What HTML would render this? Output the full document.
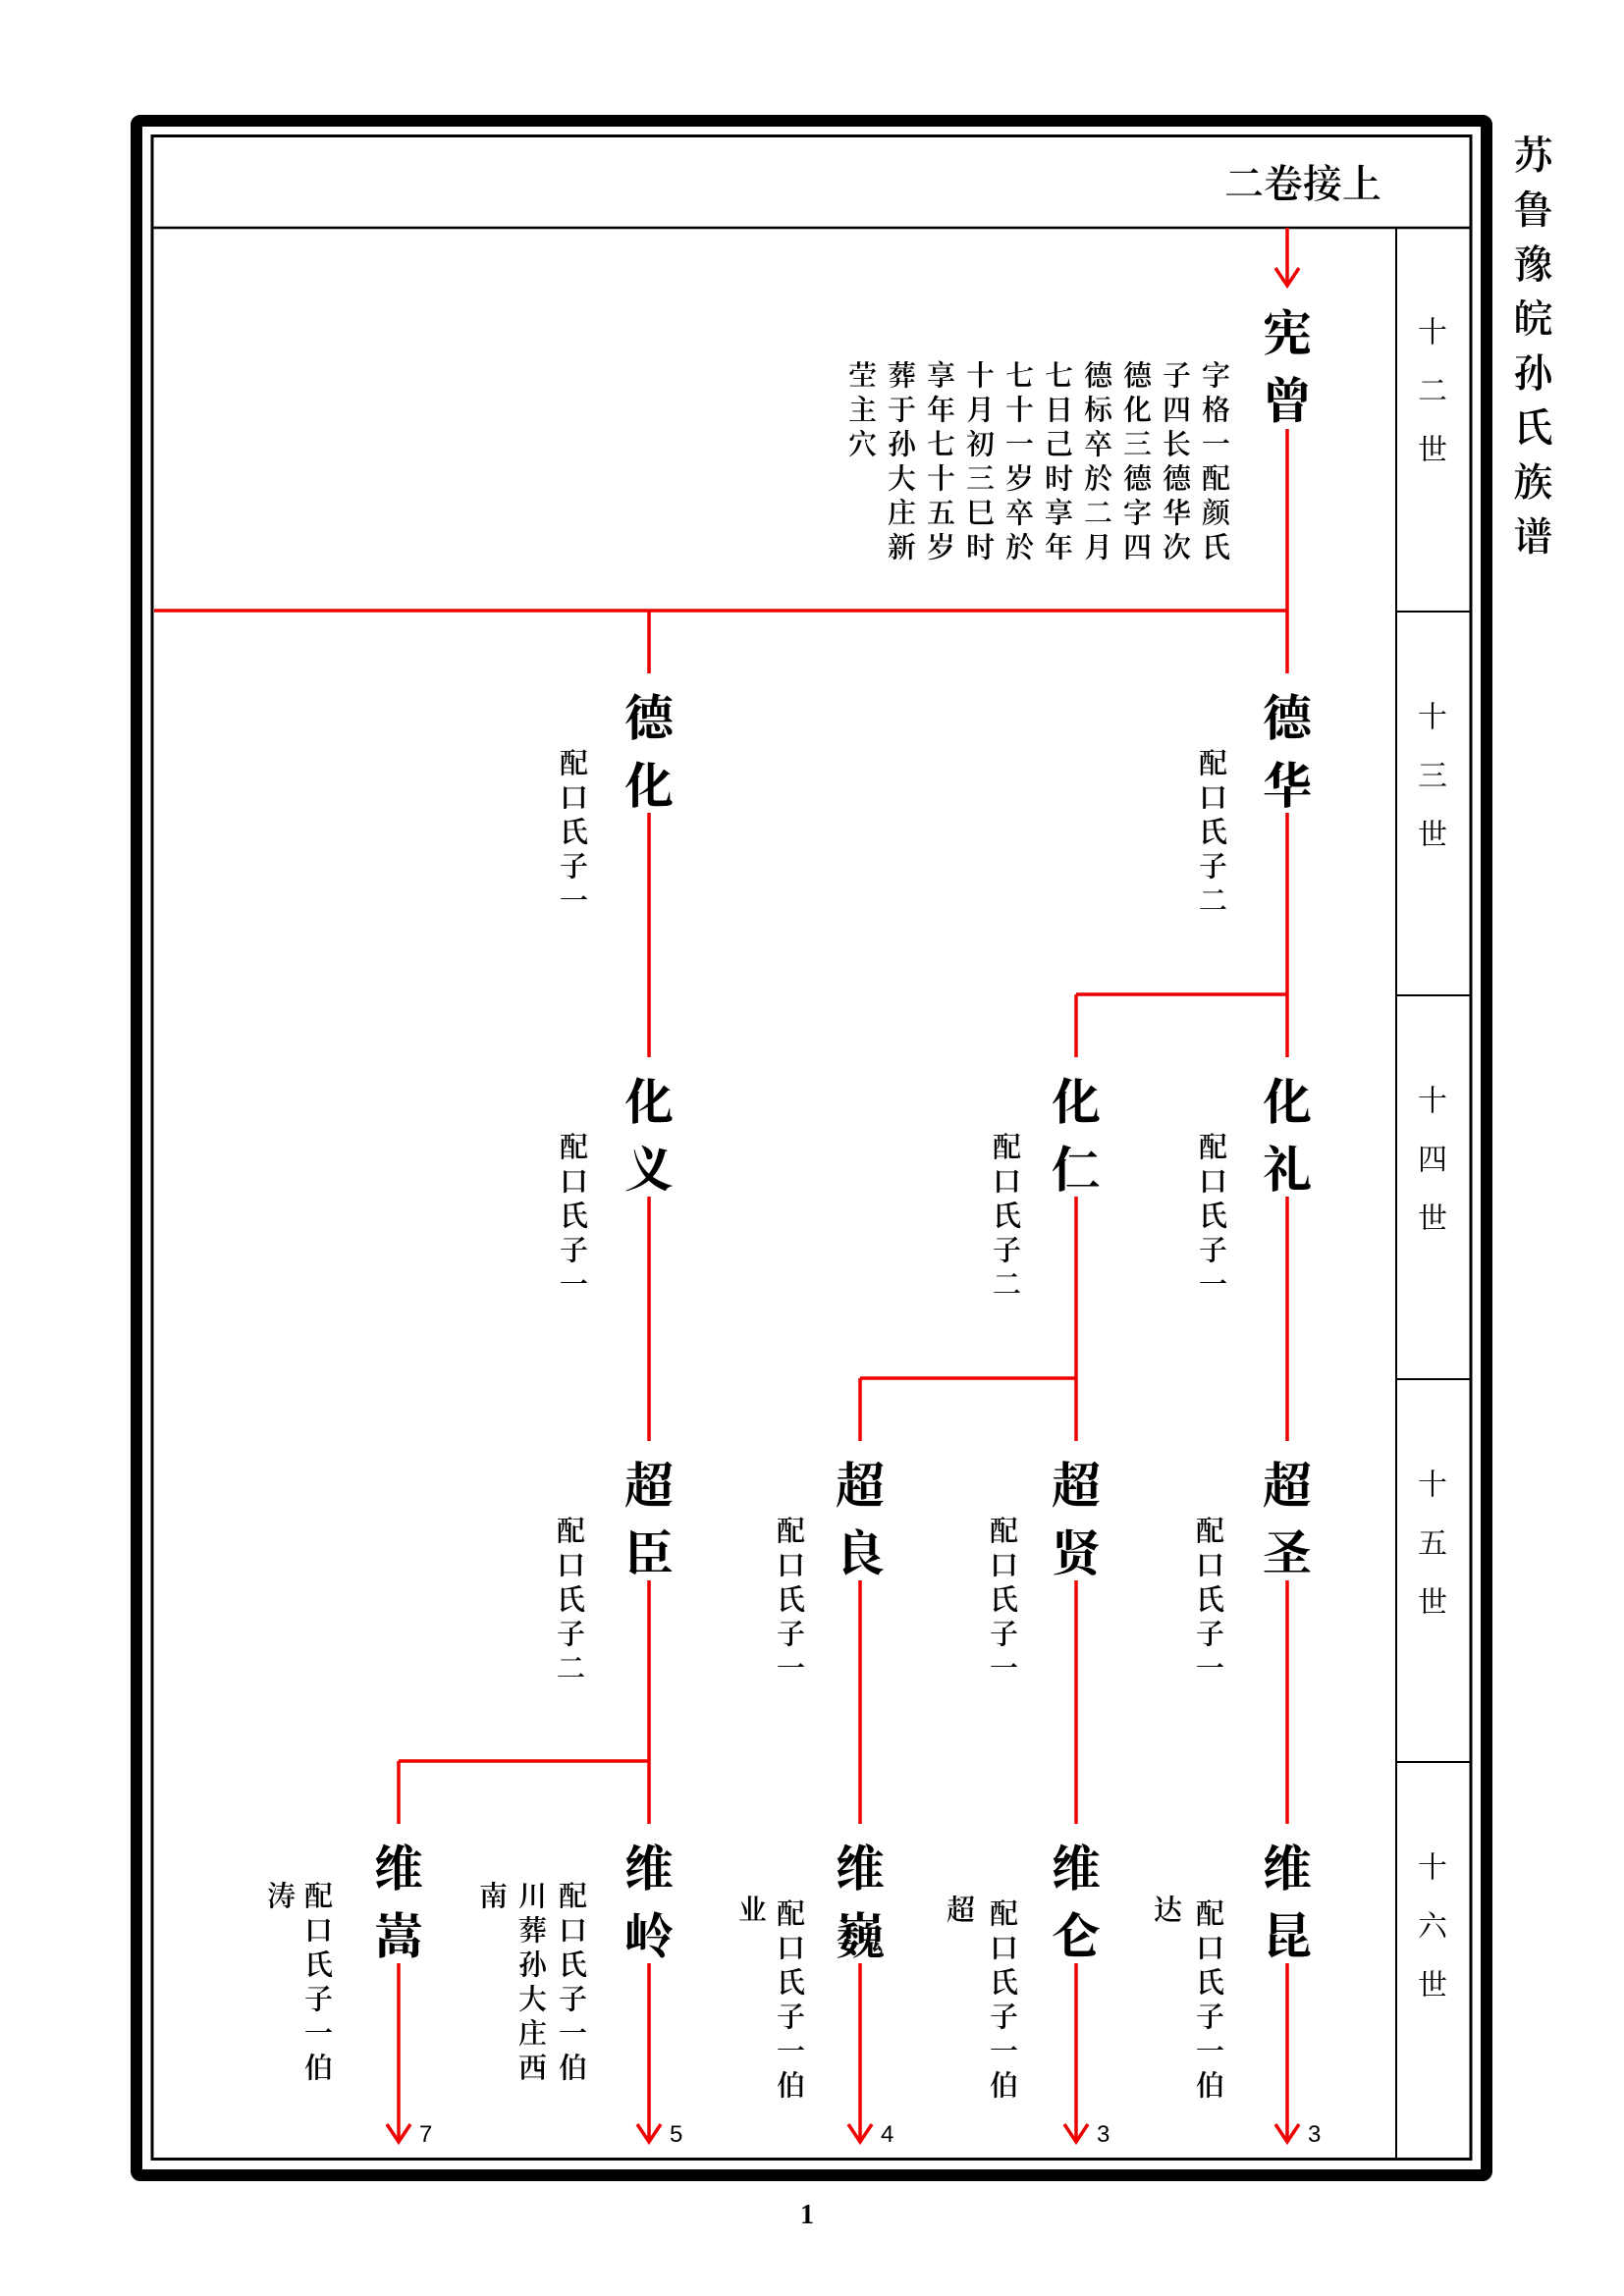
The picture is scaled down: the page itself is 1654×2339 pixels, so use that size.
<!DOCTYPE html>
<html><head><meta charset="utf-8">
<style>
body{margin:0;background:#fff;}
#p{position:relative;width:1654px;height:2339px;overflow:hidden;background:#fff;}
.v{position:absolute;writing-mode:vertical-rl;font-family:"Liberation Serif","Noto Serif CJK SC",serif;color:#000;white-space:nowrap;line-height:1;}
.n{font-size:50px;font-weight:bold;letter-spacing:19px;}
.s{font-size:29px;letter-spacing:6px;font-weight:600;}
.g{font-size:30px;letter-spacing:30px;}
.t{font-size:40px;letter-spacing:15.5px;font-weight:600;}
.num{position:absolute;font-family:"Liberation Sans",sans-serif;font-size:24px;color:#000;line-height:1;}
</style></head><body><div id="p">
<svg width="1654" height="2339" style="position:absolute;left:0;top:0">
<rect x="139" y="123" width="1375" height="2093" fill="none" stroke="#000" stroke-width="12" rx="4"/>
<rect x="155" y="138.5" width="1343" height="2061" fill="none" stroke="#000" stroke-width="3"/>
<line x1="155" y1="232" x2="1498" y2="232" stroke="#000" stroke-width="2.5"/>
<line x1="1422" y1="232" x2="1422" y2="2200" stroke="#000" stroke-width="2"/>
<g stroke="#000" stroke-width="2"><line x1="1422" y1="623" x2="1498" y2="623"/><line x1="1422" y1="1014" x2="1498" y2="1014"/><line x1="1422" y1="1405" x2="1498" y2="1405"/><line x1="1422" y1="1795" x2="1498" y2="1795"/></g>
<g stroke="#e00" stroke-width="3.5" fill="none">
<line x1="1311" y1="232" x2="1311" y2="290"/><polyline points="1299,273 1311,291 1323,273"/>
<line x1="1311" y1="437" x2="1311" y2="686"/>
<line x1="157" y1="622" x2="1311" y2="622"/>
<line x1="661" y1="622" x2="661" y2="686"/>
<line x1="1311" y1="828" x2="1311" y2="1077"/><line x1="661" y1="828" x2="661" y2="1077"/>
<line x1="1096" y1="1013" x2="1311" y2="1013"/><line x1="1096" y1="1013" x2="1096" y2="1077"/>
<line x1="1311" y1="1219" x2="1311" y2="1468"/><line x1="1096" y1="1219" x2="1096" y2="1468"/><line x1="661" y1="1219" x2="661" y2="1468"/>
<line x1="876" y1="1404" x2="1096" y2="1404"/><line x1="876" y1="1404" x2="876" y2="1468"/>
<line x1="1311" y1="1610" x2="1311" y2="1858"/><line x1="1096" y1="1610" x2="1096" y2="1858"/><line x1="876" y1="1610" x2="876" y2="1858"/><line x1="661" y1="1610" x2="661" y2="1858"/>
<line x1="406" y1="1794" x2="661" y2="1794"/><line x1="406" y1="1794" x2="406" y2="1858"/>
<line x1="1311" y1="2000" x2="1311" y2="2181"/><polyline points="1299,2164 1311,2182 1323,2164"/>
<line x1="1096" y1="2000" x2="1096" y2="2181"/><polyline points="1084,2164 1096,2182 1108,2164"/>
<line x1="876" y1="2000" x2="876" y2="2181"/><polyline points="864,2164 876,2182 888,2164"/>
<line x1="661" y1="2000" x2="661" y2="2181"/><polyline points="649,2164 661,2182 673,2164"/>
<line x1="406" y1="2000" x2="406" y2="2181"/><polyline points="394,2164 406,2182 418,2164"/>
</g>
</svg>
<div class="v t" style="left:1538px;top:137px">苏鲁豫皖孙氏族谱</div>
<div style="position:absolute;left:1247px;top:168px;font-family:'Liberation Serif','Noto Serif CJK SC',serif;font-size:40px;font-weight:600;white-space:nowrap;line-height:1">二卷接上</div>
<div class="v g" style="left:1440px;top:322px">十二世</div>
<div class="v g" style="left:1440px;top:714px">十三世</div>
<div class="v g" style="left:1440px;top:1105px">十四世</div>
<div class="v g" style="left:1440px;top:1496px">十五世</div>
<div class="v g" style="left:1440px;top:1886px">十六世</div>
<!-- names -->
<div class="v n" style="left:1282px;top:313px">宪曾</div>
<div class="v n" style="left:1282px;top:705px">德华</div>
<div class="v n" style="left:632px;top:705px">德化</div>
<div class="v n" style="left:1282px;top:1096px">化礼</div>
<div class="v n" style="left:1067px;top:1096px">化仁</div>
<div class="v n" style="left:632px;top:1096px">化义</div>
<div class="v n" style="left:1282px;top:1487px">超圣</div>
<div class="v n" style="left:1067px;top:1487px">超贤</div>
<div class="v n" style="left:847px;top:1487px">超良</div>
<div class="v n" style="left:632px;top:1487px">超臣</div>
<div class="v n" style="left:1282px;top:1877px">维昆</div>
<div class="v n" style="left:1067px;top:1877px">维仑</div>
<div class="v n" style="left:847px;top:1877px">维巍</div>
<div class="v n" style="left:632px;top:1877px">维岭</div>
<div class="v n" style="left:377px;top:1877px">维嵩</div>
<!-- 宪曾 note -->
<div class="v s" style="left:1221px;top:367px">字格一配颜氏</div>
<div class="v s" style="left:1181px;top:367px">子四长德华次</div>
<div class="v s" style="left:1141px;top:367px">德化三德字四</div>
<div class="v s" style="left:1101px;top:367px">德标卒於二月</div>
<div class="v s" style="left:1061px;top:367px">七日己时享年</div>
<div class="v s" style="left:1021px;top:367px">七十一岁卒於</div>
<div class="v s" style="left:981px;top:367px">十月初三巳时</div>
<div class="v s" style="left:941px;top:367px">享年七十五岁</div>
<div class="v s" style="left:901px;top:367px">葬于孙大庄新</div>
<div class="v s" style="left:861px;top:367px">茔主穴</div>
<!-- notes -->
<div class="v s" style="left:1218px;top:762px">配口氏子二</div>
<div class="v s" style="left:567px;top:762px">配口氏子一</div>
<div class="v s" style="left:1218px;top:1153px">配口氏子一</div>
<div class="v s" style="left:1008px;top:1153px">配口氏子二</div>
<div class="v s" style="left:567px;top:1153px">配口氏子一</div>
<div class="v s" style="left:1215px;top:1544px">配口氏子一</div>
<div class="v s" style="left:1005px;top:1544px">配口氏子一</div>
<div class="v s" style="left:788px;top:1544px">配口氏子一</div>
<div class="v s" style="left:564px;top:1544px">配口氏子二</div>
<div class="v s" style="left:1215px;top:1934px">配口氏子一伯</div>
<div class="v s" style="left:1172px;top:1930px">达</div>
<div class="v s" style="left:1005px;top:1934px">配口氏子一伯</div>
<div class="v s" style="left:961px;top:1930px">超</div>
<div class="v s" style="left:788px;top:1934px">配口氏子一伯</div>
<div class="v s" style="left:749px;top:1930px">业</div>
<div class="v s" style="left:566px;top:1916px">配口氏子一伯</div>
<div class="v s" style="left:525px;top:1916px">川葬孙大庄西</div>
<div class="v s" style="left:485px;top:1916px">南</div>
<div class="v s" style="left:307px;top:1916px">配口氏子一伯</div>
<div class="v s" style="left:269px;top:1916px">涛</div>
<div class="num" style="left:1332px;top:2163px">3</div>
<div class="num" style="left:1117px;top:2163px">3</div>
<div class="num" style="left:897px;top:2163px">4</div>
<div class="num" style="left:682px;top:2163px">5</div>
<div class="num" style="left:427px;top:2163px">7</div>
<div style="position:absolute;left:815px;top:2243px;font-family:'Liberation Serif',serif;font-size:28px;font-weight:bold;line-height:1">1</div>
</div></body></html>
